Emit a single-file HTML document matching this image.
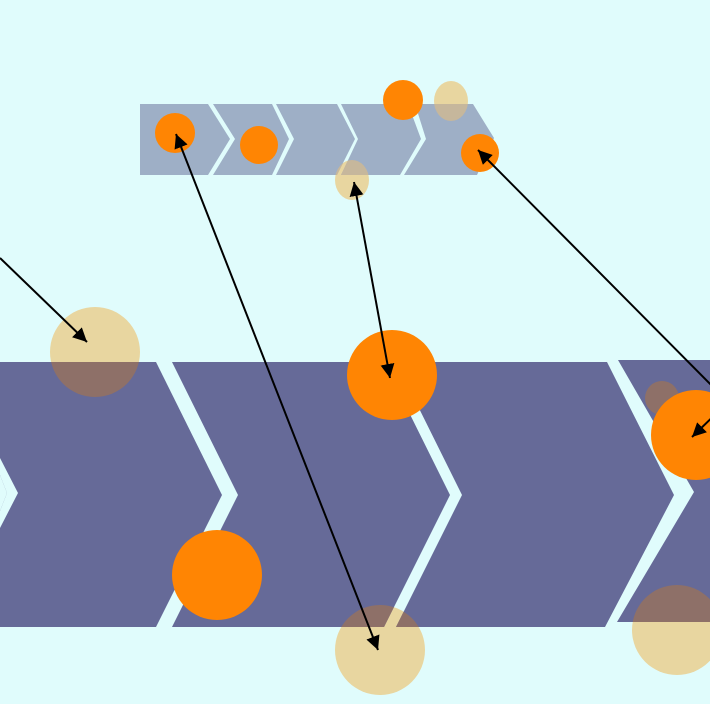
<!DOCTYPE html>
<html><head><style>html,body{margin:0;padding:0;background:#e0fcfc;}svg{display:block}</style></head>
<body>
<svg width="710" height="704" viewBox="0 0 710 704" xmlns="http://www.w3.org/2000/svg">
<defs>
<clipPath id="big">
<polygon points="-60,362 156,362 222,495 156,627 -60,627"/>
<polygon points="172,362 384,362 450,495 384,627 172,627 238,495"/>
<polygon points="396,362 607,362 674,495 605,627 396,627 462,495"/>
<polygon points="618,360 760,360 760,622 617,622 694,492"/>
</clipPath>
<clipPath id="small">
<polygon points="140,104 208,104 230,139 208,175 140,175"/>
<polygon points="213,104 272,104 289,139 272,175 213,175 235,139"/>
<polygon points="276,104 337,104 355,139 337,175 276,175 294,139"/>
<polygon points="341,104 408,104 421,139 400,175 341,175 358,139"/>
<polygon points="415,104 473,104 494,138 477,175 404,175 426,139"/>
</clipPath>
<marker id="ah" viewBox="0 0 10 10" refX="10" refY="5" markerWidth="7" markerHeight="7" orient="auto-start-reverse"><path d="M0,0 L10,5 L0,10 z" fill="#000"/></marker>
</defs>
<!-- tan circles below -->
<g fill="#e8d6a0">
<circle cx="95" cy="352" r="45"/>
<circle cx="380" cy="650" r="45"/>
<circle cx="677" cy="630" r="45"/>
<ellipse cx="451" cy="101" rx="17" ry="20"/>
<ellipse cx="352" cy="180" rx="17" ry="20"/>
</g>
<!-- big band -->
<g fill="#666a98">
<polygon points="-60,362 156,362 222,495 156,627 -60,627"/>
<polygon points="172,362 384,362 450,495 384,627 172,627 238,495"/>
<polygon points="396,362 607,362 674,495 605,627 396,627 462,495"/>
<polygon points="618,360 760,360 760,622 617,622 694,492"/>
</g>
<polygon points="0,475 7,493 0,511" fill="#e0fcfc"/>
<polygon points="0,458 18,493 0,528 0,511 7,493 0,475" fill="#e0fcfc"/>
<!-- small band -->
<g fill="#9eafc6">
<polygon points="140,104 208,104 230,139 208,175 140,175"/>
<polygon points="213,104 272,104 289,139 272,175 213,175 235,139"/>
<polygon points="276,104 337,104 355,139 337,175 276,175 294,139"/>
<polygon points="341,104 408,104 421,139 400,175 341,175 358,139"/>
<polygon points="415,104 473,104 494,138 477,175 404,175 426,139"/>
</g>
<!-- overlaps -->
<g clip-path="url(#big)" fill="#8e7068">
<circle cx="95" cy="352" r="45"/>
<circle cx="380" cy="650" r="45"/>
<circle cx="677" cy="630" r="45"/>
<circle cx="662" cy="398" r="17"/>
</g>
<g clip-path="url(#small)" fill="#c6b79c">
<ellipse cx="451" cy="101" rx="17" ry="20"/>
<ellipse cx="352" cy="180" rx="17" ry="20"/>
</g>
<!-- orange circles -->
<g fill="#ff8503">
<circle cx="175" cy="133" r="20"/>
<circle cx="259" cy="145" r="19"/>
<circle cx="403" cy="100" r="20"/>
<circle cx="480" cy="153" r="19"/>
<circle cx="392" cy="375" r="45"/>
<circle cx="217" cy="575" r="45"/>
<circle cx="696" cy="435" r="45"/>
</g>
<!-- arrows -->
<g stroke="#000" stroke-width="2" fill="none">
<line x1="0" y1="258" x2="87" y2="342" marker-end="url(#ah)"/>
<line x1="176" y1="134" x2="378" y2="650" marker-start="url(#ah)" marker-end="url(#ah)"/>
<line x1="354" y1="182" x2="390" y2="378" marker-start="url(#ah)" marker-end="url(#ah)"/>
<polyline points="478,150 728,402 692,437" marker-start="url(#ah)" marker-end="url(#ah)"/>
</g>
</svg>
</body></html>
